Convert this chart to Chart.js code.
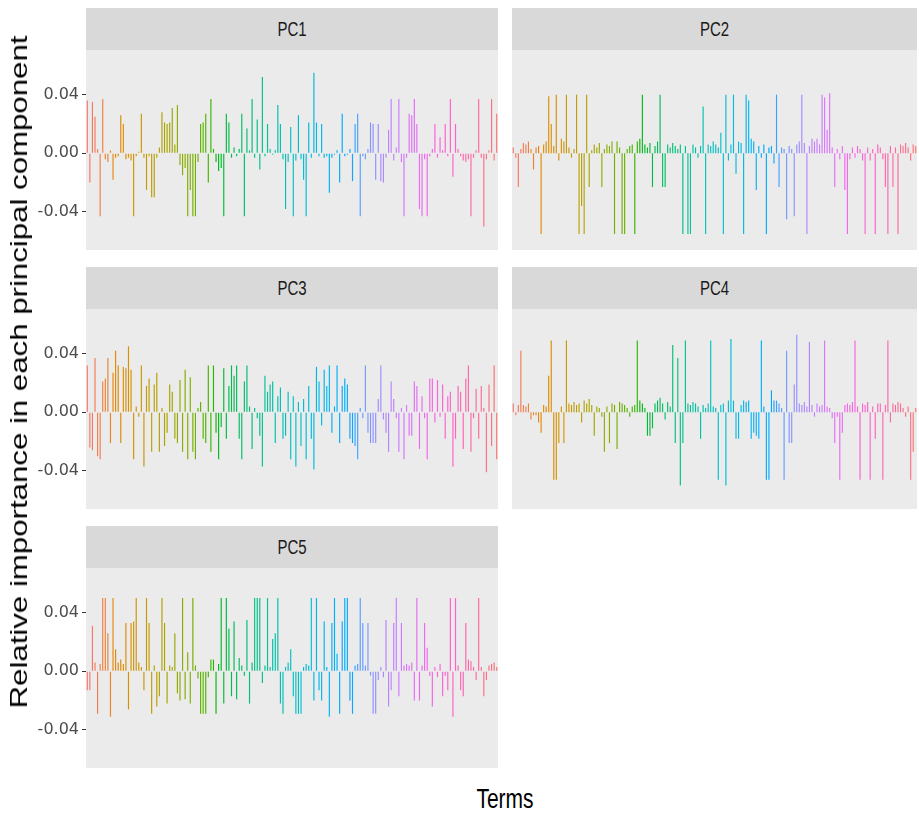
<!DOCTYPE html>
<html>
<head>
<meta charset="utf-8">
<script src="https://cdn.jsdelivr.net/npm/chart.js@4.4.0/dist/chart.umd.min.js"></script>
<style>
  body { margin: 0; background: #fff; }
  #page { position: relative; width: 919px; height: 813px; overflow: hidden;
          font-family: "Liberation Sans", Arial, sans-serif; }
  .strip { position: absolute; height: 42px; background: #d9d9d9; color: #1a1a1a;
           font-size: 15px; line-height: 42px; text-align: center; }
  .strip span { display: inline-block; transform: scaleY(1.35); }
  canvas { position: absolute; }
  #ytitle { position: absolute; left: 19px; top: 372px; white-space: nowrap; color: #000;
            font-size: 24px; transform: translate(-50%, -50%) rotate(-90deg) scaleX(1.3); }
  #xtitle { position: absolute; left: 505px; top: 799px; white-space: nowrap; color: #000;
            font-size: 21px; transform: translate(-50%, -50%) scaleY(1.35); }
</style>
</head>
<body>
<div id="page">
  <div class="strip" style="left:86px; top:8px; width:412px"><span>PC1</span></div>
  <div class="strip" style="left:512px; top:8px; width:405px"><span>PC2</span></div>
  <div class="strip" style="left:86px; top:267px; width:412px"><span>PC3</span></div>
  <div class="strip" style="left:512px; top:267px; width:405px"><span>PC4</span></div>
  <div class="strip" style="left:86px; top:526px; width:412px"><span>PC5</span></div>

  <canvas id="pc1" width="478" height="200" style="left:20px; top:50px"></canvas>
  <canvas id="pc2" width="405" height="200" style="left:512px; top:50px"></canvas>
  <canvas id="pc3" width="478" height="200" style="left:20px; top:309px"></canvas>
  <canvas id="pc4" width="405" height="200" style="left:512px; top:309px"></canvas>
  <canvas id="pc5" width="478" height="200" style="left:20px; top:568px"></canvas>

  <div id="ytitle">Relative importance in each principal component</div>
  <div id="xtitle">Terms</div>
</div>

<script>
// loadings per term, in units of 0.001
var pc1 = [
  36,-20,35,25,3,-43,37,-4,-6,2,
  -18,-3,-2,26,20,-4,-3,-5,-43,-2,
  1,27,-3,-25,-2,-30,-30,-3,4,28,
  21,20,21,31,6,33,-8,-15,-10,-43,
  -25,-43,-43,-6,20,21,27,-20,37,3,
  -6,-12,-10,-43,27,21,-3,4,-2,3,
  27,-43,17,2,37,-3,23,-11,52,-2,
  20,3,-1,2,33,20,-4,-38,-6,18,
  -43,-5,26,-4,-18,-43,21,-3,55,21,
  -2,20,-3,-2,-27,-3,-1,2,-20,27,
  -2,-1,3,-19,20,27,-43,-2,-4,3,
  21,20,-18,20,-19,-20,-3,16,37,-5,
  4,37,-6,-43,-3,27,26,37,20,-38,
  -43,-4,-43,-2,3,20,-3,11,2,20,
  -2,37,-16,20,3,-2,-5,-6,-4,-43,
  -3,2,37,-3,-50,-4,2,37,-5,27
];

var pc2 = [
  4,-3,-23,3,7,6,8,3,-11,4,
  5,-55,6,8,39,20,5,40,-5,10,
  8,40,4,-3,3,40,-55,-36,-55,40,
  -23,2,6,4,7,-23,3,6,5,8,
  -55,8,4,-55,-55,3,5,6,-55,8,
  10,40,6,4,7,-23,5,8,40,-23,
  -23,6,4,7,5,3,6,-55,5,-55,
  -55,6,4,-3,5,32,-55,6,5,8,
  6,4,14,-55,40,-5,6,40,-14,8,
  7,-55,40,36,10,8,-25,5,-3,6,
  -55,4,5,-7,40,-23,4,3,-45,5,
  3,-43,6,8,40,7,-55,5,10,8,
  10,6,40,38,16,41,4,-23,3,-4,
  5,-25,-55,-4,4,-3,5,3,-5,-55,
  4,-5,3,-55,6,4,-4,-23,-55,5,
  -23,4,-55,6,5,7,4,-5,6,5
];

var pc3 = [
  32,-24,-26,37,-30,-32,21,23,37,-21,
  27,42,32,-21,31,30,45,29,-32,4,
  -3,32,-37,18,23,-27,19,27,-27,3,
  -23,-14,19,14,-18,-21,22,-27,29,-32,
  24,-27,-32,3,7,-18,-21,32,-27,32,
  -14,-32,-10,30,-18,18,32,25,32,-18,
  -32,21,32,4,-25,3,-4,-16,-37,25,
  14,19,21,-21,11,17,-18,-16,14,-32,
  11,-37,7,-23,9,-32,18,-18,-39,31,
  21,-9,29,18,32,-14,4,32,-21,18,
  23,19,-18,-21,-23,-32,3,-4,32,-14,
  -21,-21,-21,9,32,-5,-14,-27,21,9,
  -4,-27,3,-32,5,-16,-16,21,18,-25,
  11,-4,-32,23,23,-7,22,-3,19,-18,
  11,14,-37,-18,18,14,-25,23,32,-27,
  -4,16,-18,18,3,-41,19,-23,32,-32
];

var pc4 = [
  6,-2,5,42,5,4,6,-5,-2,-2,
  -7,-14,5,4,25,49,-46,-46,-21,4,
  -21,49,6,5,7,5,6,-7,8,6,
  9,5,-16,4,3,-3,-27,4,-21,6,
  5,-25,7,6,5,3,-3,4,5,49,
  8,6,3,-16,-16,-11,6,8,10,6,
  -5,7,4,46,-21,37,-50,-21,49,6,
  5,7,6,4,-18,5,3,6,49,4,
  3,-46,5,6,-50,8,50,8,-18,-18,
  5,8,7,8,-18,-14,-16,-18,49,4,
  -46,-46,15,8,8,6,3,-46,42,-21,
  -21,19,53,6,5,7,4,48,5,-3,
  6,4,5,49,4,3,-4,-21,-3,-46,
  -14,5,6,5,7,49,4,-46,6,5,
  7,-46,4,-18,6,6,-46,5,49,-7,
  6,5,7,6,3,-3,4,-46,-27,3
];

var pc5 = [
  -13,-13,31,6,-29,5,50,50,26,-31,
  50,15,6,8,5,33,-26,33,34,50,
  6,3,-13,50,33,-29,4,-24,-17,50,
  33,-22,4,3,26,-15,-20,50,-19,13,
  -22,50,4,-5,-29,-29,-29,-4,8,8,
  -29,5,50,-22,50,29,-17,34,-19,9,
  4,-3,35,-22,6,50,50,50,-8,4,
  50,3,22,26,50,-22,-29,3,6,15,
  -17,-29,-29,-29,3,5,4,50,-20,50,
  -13,-20,34,3,-31,33,50,12,-29,34,
  50,50,-20,-29,4,5,50,33,4,33,
  -3,-29,-29,-6,3,-4,35,-24,-13,33,
  50,-17,33,4,5,4,6,-20,50,-20,
  4,33,16,-3,-24,3,-4,5,-17,-3,
  -13,50,-31,50,4,-13,-17,33,8,7,
  3,-6,50,3,-17,-6,4,5,6,3
];

var yTicks = [-0.04, 0, 0.04];
var yMin = -0.066, yMax = 0.0705;

var terms = pc1.map(function (v, i) { return 'term' + (i + 1); });

// ggplot-style hue palette: hcl(h, c = 100, l = 65)
function hcl(h, c, l) {
    var hr = h * Math.PI / 180;
    var u = c * Math.cos(hr), v = c * Math.sin(hr);
    var Xn = 95.047, Yn = 100, Zn = 108.883;
    var un = 4 * Xn / (Xn + 15 * Yn + 3 * Zn);
    var vn = 9 * Yn / (Xn + 15 * Yn + 3 * Zn);
    var Y = l > 8 ? Yn * Math.pow((l + 16) / 116, 3) : Yn * l / 903.3;
    var up = u / (13 * l) + un, vp = v / (13 * l) + vn;
    var X = Y * 9 * up / (4 * vp);
    var Z = Y * (12 - 3 * up - 20 * vp) / (4 * vp);
    var x = X / 100, y = Y / 100, z = Z / 100;
    var rgb = [
        3.2404542 * x - 1.5371385 * y - 0.4985314 * z,
        -0.9692660 * x + 1.8760108 * y + 0.0415560 * z,
        0.0556434 * x - 0.2040259 * y + 1.0572252 * z
    ].map(function (c) {
        c = c <= 0.0031308 ? 12.92 * c : 1.055 * Math.pow(c, 1 / 2.4) - 0.055;
        return Math.round(Math.min(1, Math.max(0, c)) * 255);
    });
    return 'rgb(' + rgb.join(',') + ')';
}

var termColors = terms.map(function (t, i) {
    return hcl(15 + 360 * i / terms.length, 100, 65);
});

var panelBackground = {
    id: 'panelBackground',
    beforeDraw: function (chart) {
        var a = chart.chartArea, ctx = chart.ctx;
        ctx.save();
        ctx.fillStyle = '#ebebeb';
        ctx.fillRect(a.left, a.top, a.width, a.height);
        ctx.restore();
    }
};

function drawPanel(id, values, withAxis) {
    var ctx = document.getElementById(id).getContext('2d');
    return new Chart(ctx, {
        type: 'bar',
        data: {
            labels: terms,
            datasets: [{
                data: values.map(function (v) { return v / 1000; }),
                backgroundColor: termColors,
                borderWidth: 0,
                barPercentage: 0.45,
                categoryPercentage: 1
            }]
        },
        options: {
            responsive: false,
            animation: false,
            events: [],
            layout: { padding: 0 },
            plugins: { legend: { display: false }, tooltip: { enabled: false } },
            scales: {
                x: { display: false, offset: true, grid: { display: false } },
                y: {
                    display: withAxis,
                    min: yMin,
                    max: yMax,
                    afterBuildTicks: function (scale) {
                        scale.ticks = yTicks.map(function (v) { return { value: v }; });
                    },
                    afterFit: function (scale) {
                        scale.width = withAxis ? 66 : 0;
                        scale.paddingTop = 0;
                        scale.paddingBottom = 0;
                    },
                    border: { display: false },
                    grid: { drawOnChartArea: false, drawTicks: true, tickLength: 4, color: '#333333' },
                    ticks: {
                        padding: 3,
                        color: '#4d4d4d',
                        font: { family: 'DejaVu Sans', size: 16 },
                        callback: function (v) { return v.toFixed(2); }
                    }
                }
            }
        },
        plugins: [panelBackground]
    });
}

drawPanel('pc1', pc1, true);
drawPanel('pc2', pc2, false);
drawPanel('pc3', pc3, true);
drawPanel('pc4', pc4, false);
drawPanel('pc5', pc5, true);
</script>
</body>
</html>
